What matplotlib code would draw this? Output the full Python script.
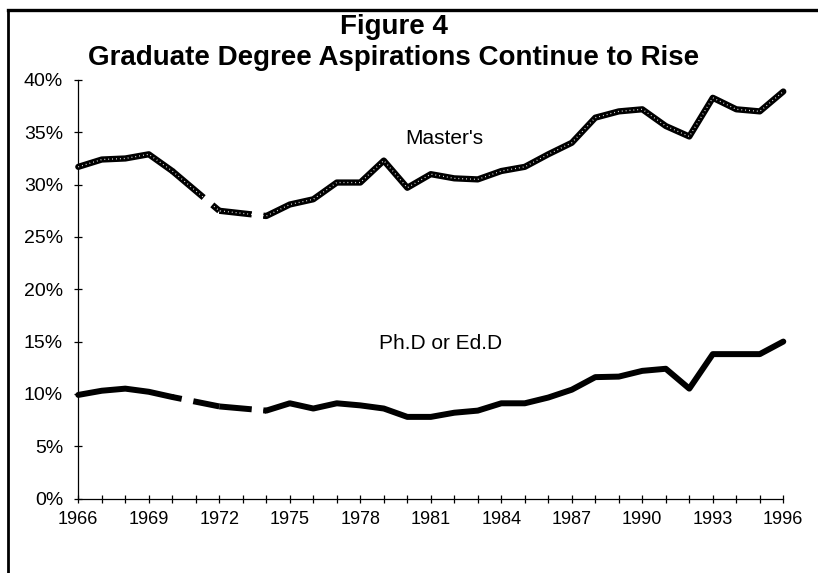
import numpy as np
import matplotlib
matplotlib.use("Agg")
import matplotlib.pyplot as plt
from matplotlib.lines import Line2D
from matplotlib.ticker import FixedLocator

# ---------------- data ----------------
years = [1966, 1967, 1968, 1969, 1970, 1972, 1974, 1975, 1976, 1977, 1978,
         1979, 1980, 1981, 1982, 1983, 1984, 1985, 1986, 1987, 1988, 1989,
         1990, 1991, 1992, 1993, 1994, 1995, 1996]
masters = [31.7, 32.4, 32.5, 32.9, 31.3, 27.5, 27.0, 28.1, 28.6, 30.2, 30.2,
           32.3, 29.7, 31.0, 30.6, 30.5, 31.3, 31.7, 32.9, 34.0, 36.4, 37.0,
           37.2, 35.6, 34.6, 38.3, 37.2, 37.0, 38.9]
phd = [9.9, 10.3, 10.5, 10.2, 9.7, 8.8, 8.4, 9.1, 8.6, 9.1, 8.9,
       8.6, 7.8, 7.8, 8.2, 8.4, 9.1, 9.1, 9.65, 10.4, 11.6, 11.65,
       12.2, 12.4, 10.5, 13.8, 13.8, 13.8, 15.0]

x_tick_years = list(range(1966, 1997, 3))
x_tick_labels = [str(y) for y in x_tick_years]
x_minor_years = list(range(1966, 1997))
y_ticks = list(range(0, 41, 5))
y_tick_labels = [f"{v}%" for v in y_ticks]

title_line1 = "Figure 4"
title_line2 = "Graduate Degree Aspirations Continue to Rise"
series_labels = ["Master's", "Ph.D or Ed.D"]
series_label_pos = [(1981.56, 34.4), (1981.4, 14.8)]

# style: blank part (fractions) of the connectors spanning missing years
gap_style = {
    "masters": [(0.667, 0.851), (0.69, 0.936)],
    "phd": [(0.20, 0.447), (0.69, 0.936)],
}

# ---------------- figure ----------------
plt.rcParams['font.family'] = ['Liberation Sans', 'DejaVu Sans']
plt.rcParams['lines.scale_dashes'] = False

W, H = 818, 573
fig = plt.figure(figsize=(W / 100, H / 100), dpi=100)
ax = fig.add_axes([78.3 / W, 74.5 / H, 705 / W, 418.5 / H])
ax.set_xlim(1966, 1996)
ax.set_ylim(0, 40)


def draw_series(yrs, vals, gaps, lw):
    yrs = np.asarray(yrs, dtype=float)
    vals = np.asarray(vals, dtype=float)
    breaks = np.where(np.diff(yrs) > 1)[0]
    starts = np.r_[0, breaks + 1]
    ends = np.r_[breaks, len(yrs) - 1]
    for s, e in zip(starts, ends):
        ax.plot(yrs[s:e + 1], vals[s:e + 1], color='black', lw=lw,
                solid_joinstyle='round', solid_capstyle='round',
                clip_on=False, zorder=3)
    for k, b in enumerate(breaks):
        p0 = ax.transData.transform((yrs[b], vals[b]))
        p1 = ax.transData.transform((yrs[b + 1], vals[b + 1]))
        L = np.hypot(*(p1 - p0)) * 72.0 / fig.dpi
        f0, f1 = gaps[k]
        dash = (f0 * L, (f1 - f0) * L, (1 - f1) * L + 10, 1)
        ax.plot(yrs[b:b + 2], vals[b:b + 2], color='black', lw=lw,
                linestyle=(0, dash), dash_capstyle='butt',
                clip_on=False, zorder=3)


draw_series(years, phd, gap_style["phd"], 4.3)
draw_series(years, masters, gap_style["masters"], 4.5)
# speckled texture of the Master's line
ax.plot(years, masters, color='white', lw=0.9, linestyle=(0, (0.6, 2.2)),
        clip_on=False, zorder=4)

for txt, (xx, yy) in zip(series_labels, series_label_pos):
    ax.text(xx, yy, txt, ha='center', va='center', fontsize=15, color='black')

# axes styling
for side in ['top', 'right']:
    ax.spines[side].set_visible(False)
for side in ['left', 'bottom']:
    ax.spines[side].set_linewidth(0.9)
    ax.spines[side].set_color('black')

ax.xaxis.set_major_locator(FixedLocator(x_tick_years))
ax.xaxis.set_minor_locator(FixedLocator(x_minor_years))
ax.set_xticklabels(x_tick_labels)
ax.set_yticks(y_ticks)
ax.set_yticklabels(y_tick_labels)
ax.tick_params(axis='both', which='both', direction='inout', length=6,
               width=0.9, colors='black')
ax.tick_params(axis='y', labelsize=14, pad=8)
ax.tick_params(axis='x', labelsize=13, pad=6)

# title
fig.text(393.5 / W, 1 - 34 / H, title_line1, ha='center', va='baseline',
         fontsize=20, fontweight='bold')
fig.text(393.5 / W, 1 - 65 / H, title_line2, ha='center', va='baseline',
         fontsize=20, fontweight='bold')

# page frame (left and top border)
fig.add_artist(Line2D([8 / W, 8 / W], [0, 1 - 10 / H], transform=fig.transFigure,
                      color='black', lw=2.0))
fig.add_artist(Line2D([8 / W, 1], [1 - 10 / H, 1 - 10 / H], transform=fig.transFigure,
                      color='black', lw=2.4))

fig.savefig("out.png", dpi=100)
